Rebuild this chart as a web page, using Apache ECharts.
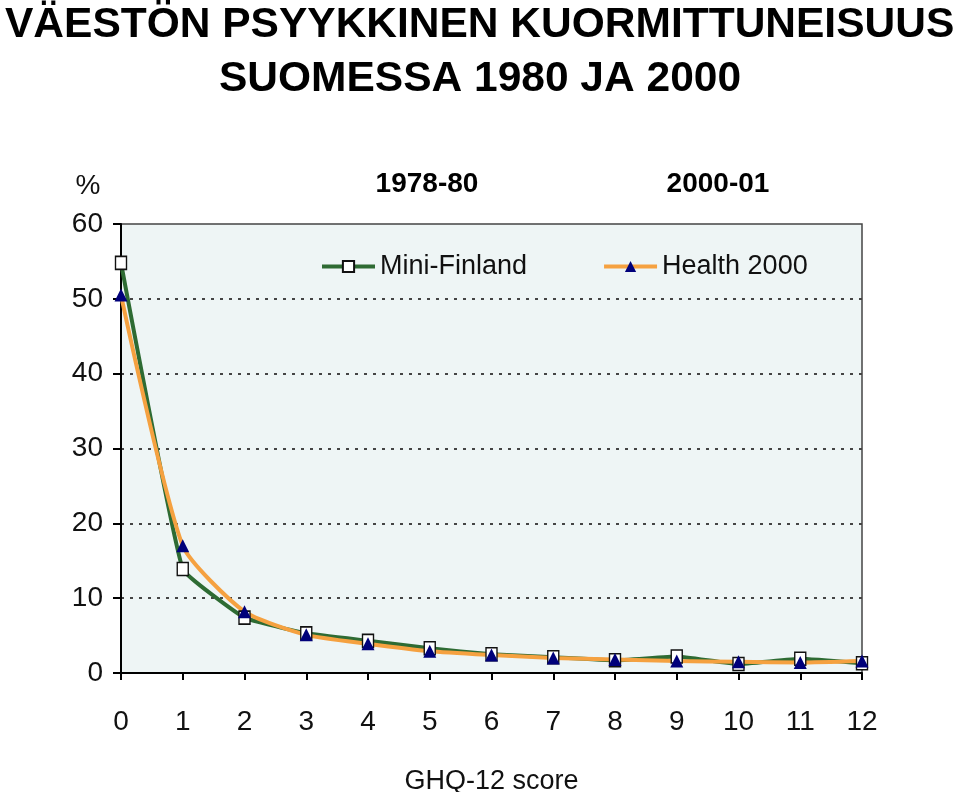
<!DOCTYPE html>
<html>
<head>
<meta charset="utf-8">
<script src="https://cdn.jsdelivr.net/npm/echarts@6/dist/echarts.min.js"></script>
<style>
  html, body { margin: 0; padding: 0; background: #fff; }
  #chart { width: 960px; height: 792px; }
</style>
</head>
<body>
<div id="chart"></div>
<script>
// GHQ-12 pisteet 0..12
const scores = [0, 1, 2, 3, 4, 5, 6, 7, 8, 9, 10, 11, 12];
// Mini-Finland 1978-80 (%)
const miniFinland = [54.8, 13.9, 7.4, 5.3, 4.3, 3.3, 2.5, 2.1, 1.7, 2.2, 1.2, 1.9, 1.3];
// Health 2000, 2000-01 (%)
const health2000 = [50.5, 17.0, 8.2, 5.1, 3.9, 2.9, 2.4, 2.0, 1.8, 1.6, 1.5, 1.4, 1.6];
const yTicks = [0, 10, 20, 30, 40, 50, 60];

const sans = "'Liberation Sans', Arial, sans-serif";

const chart = echarts.init(document.getElementById('chart'));

chart.setOption({
  backgroundColor: '#fff',
  animation: false,
  title: [
    {
      text: 'VÄESTÖN PSYYKKINEN KUORMITTUNEISUUS',
      left: 5, top: 4, padding: 0,
      textStyle: { fontFamily: sans, fontSize: 42.5, fontWeight: 'bold', color: '#000' }
    },
    {
      text: 'SUOMESSA 1980 JA 2000',
      left: 'center', top: 58, padding: 0,
      textStyle: { fontFamily: sans, fontSize: 42.5, fontWeight: 'bold', color: '#000' }
    }
  ],
  graphic: [
    { type: 'text', x: 427, y: 184, style: { text: '1978-80', font: 'bold 28px ' + sans, fill: '#000', align: 'center', verticalAlign: 'middle' } },
    { type: 'text', x: 718, y: 184, style: { text: '2000-01', font: 'bold 28px ' + sans, fill: '#000', align: 'center', verticalAlign: 'middle' } },
    { type: 'text', x: 88, y: 186, style: { text: '%', font: '28px ' + sans, fill: '#111', align: 'center', verticalAlign: 'middle' } }
  ],
  legend: {
    left: 315, top: 248,
    itemWidth: 53, itemHeight: 14, itemGap: 75,
    lineStyle: { width: 4 },
    textStyle: { fontFamily: sans, fontSize: 27, color: '#111' },
    data: ['Mini-Finland', 'Health 2000']
  },
  grid: {
    left: 121, right: 98, top: 224, bottom: 119,
    containLabel: false, outerBoundsMode: 'none',
    show: true, backgroundColor: '#eef5f5', borderColor: '#444', borderWidth: 1.5
  },
  xAxis: {
    type: 'value', min: 0, max: 12, interval: 1,
    name: 'GHQ-12 score', nameLocation: 'middle', nameGap: 95,
    nameTextStyle: { fontFamily: sans, fontSize: 27, color: '#111', verticalAlign: 'top' },
    axisLine: { lineStyle: { color: '#000', width: 2 } },
    axisTick: { length: 7, lineStyle: { color: '#000', width: 2 } },
    axisLabel: { fontFamily: sans, fontSize: 28, color: '#111', margin: 35 },
    splitLine: { show: false }
  },
  yAxis: {
    type: 'value', min: yTicks[0], max: yTicks[yTicks.length - 1], interval: 10,
    axisLine: { show: true, lineStyle: { color: '#000', width: 2 } },
    axisTick: { show: true, length: 8, lineStyle: { color: '#000', width: 2 } },
    axisLabel: { fontFamily: sans, fontSize: 28, color: '#111', margin: 18 },
    splitLine: { show: true, showMinLine: false, showMaxLine: false, lineStyle: { color: '#444', width: 2, type: [3, 6] } }
  },
  series: [
    {
      name: 'Mini-Finland', type: 'line',
      data: scores.map((s, i) => [s, miniFinland[i]]),
      smooth: 0.1,
      lineStyle: { color: '#2e6b33', width: 4 },
      itemStyle: { color: '#fff', borderColor: '#111', borderWidth: 1.5 },
      symbol: 'rect', symbolSize: [11, 13], showAllSymbol: true
    },
    {
      name: 'Health 2000', type: 'line',
      data: scores.map((s, i) => [s, health2000[i]]),
      smooth: 0.2,
      lineStyle: { color: '#f5a140', width: 4 },
      itemStyle: { color: '#00007a', borderColor: '#00007a', borderWidth: 0 },
      symbol: 'triangle', symbolSize: [13, 13], showAllSymbol: true
    }
  ]
});
</script>
</body>
</html>
